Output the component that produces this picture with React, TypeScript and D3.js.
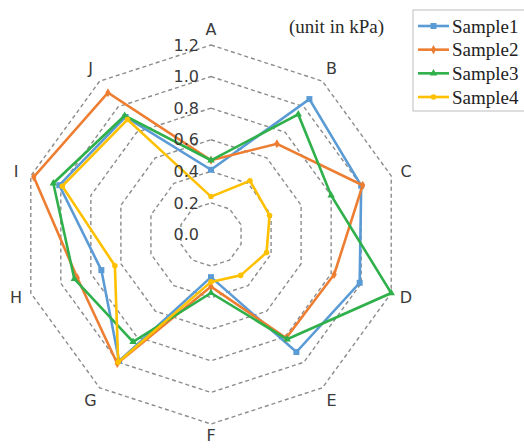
import { useEffect, useRef } from 'react';
import * as d3 from 'd3';

const categories = ['A', 'B', 'C', 'D', 'E', 'F', 'G', 'H', 'I', 'J'];
const seriesNames = ['Sample1', 'Sample2', 'Sample3', 'Sample4'];
const sample1 = [0.41, 1.06, 1.0, 0.99, 0.92, 0.27, 0.99, 0.73, 1.01, 0.92];
const sample2 = [0.47, 0.71, 1.01, 0.82, 0.81, 0.33, 1.01, 0.89, 1.18, 1.11];
const sample3 = [0.47, 0.94, 0.8, 1.2, 0.82, 0.37, 0.84, 0.91, 1.05, 0.93];
const sample4 = [0.24, 0.42, 0.39, 0.37, 0.32, 0.3, 1.0, 0.64, 0.99, 0.9];
const tickValues = [0, 0.2, 0.4, 0.6, 0.8, 1.0, 1.2];
const colors = ['#5b9bd5', '#ed7d31', '#2fb04a', '#ffc000'];

export default function App() {
  const svgRef = useRef<SVGSVGElement>(null);

  useEffect(() => {
    if (!svgRef.current) return;
    const width = 524;
    const height = 448;
    const cx = 211;
    const cy = 234.5;

    d3.select(svgRef.current).selectAll('*').remove();
    const svg = d3.select(svgRef.current)
      .attr('width', width)
      .attr('height', height);

    svg.append('rect').attr('width', width).attr('height', height).attr('fill', '#ffffff');

    const g = svg.append('g').attr('transform', `translate(${cx},${cy})`);

    const r = d3.scaleLinear().domain([0, 1.2]).range([0, 189.5]);
    const angle = d3.scalePoint<string>()
      .domain(categories)
      .range([0, 2 * Math.PI * (categories.length - 1) / categories.length]);

    const pt = (cat: string, v: number): [number, number] => {
      const a = angle(cat) || 0;
      return [r(v) * Math.sin(a), -r(v) * Math.cos(a)];
    };

    const closed = d3.line<[number, number]>().curve(d3.curveLinearClosed);

    // grid decagons
    g.selectAll('.grid')
      .data(tickValues.filter(t => t > 0))
      .join('path')
      .attr('class', 'grid')
      .attr('d', t => closed(categories.map(c => pt(c, t))))
      .attr('fill', 'none')
      .attr('stroke', '#8c8c8c')
      .attr('stroke-width', 1.4)
      .attr('stroke-dasharray', '4,3');

    // category labels
    g.selectAll('.cat')
      .data(categories)
      .join('text')
      .attr('class', 'cat')
      .attr('x', c => pt(c, 1.2)[0] * 205 / 189.5)
      .attr('y', c => pt(c, 1.2)[1] * (c === 'F' ? 201 : 205) / 189.5)
      .attr('dy', '0.35em')
      .attr('text-anchor', 'middle')
      .style('font-family', "'DejaVu Sans', 'Noto Sans', sans-serif")
      .style('font-size', '16px')
      .style('fill', '#3a3a3a')
      .text(c => c);

    const allSeries = [sample1, sample2, sample3, sample4];
    const symbols = [d3.symbolSquare, d3.symbolDiamond, d3.symbolTriangle, d3.symbolCircle];

    allSeries.forEach((vals, i) => {
      const pts = categories.map((c, k) => pt(c, vals[k]));
      g.append('path')
        .attr('d', closed(pts))
        .attr('fill', 'none')
        .attr('stroke', colors[i])
        .attr('stroke-width', 2.6)
        .attr('stroke-linejoin', 'miter');
      g.selectAll(`.m${i}`)
        .data(pts)
        .join('path')
        .attr('class', `m${i}`)
        .attr('transform', d => `translate(${d[0]},${d[1]})`)
        .attr('d', d3.symbol().type(symbols[i]).size(i === 0 ? 36 : 24)())
        .attr('fill', colors[i]);
    });

    // tick labels
    g.selectAll('.tick')
      .data(tickValues)
      .join('text')
      .attr('class', 'tick')
      .attr('x', -12)
      .attr('y', t => -r(t))
      .attr('dy', '0.35em')
      .attr('text-anchor', 'end')
      .style('font-family', "'DejaVu Sans', 'Noto Sans', sans-serif")
      .style('font-size', '16px')
      .style('fill', '#3a3a3a')
      .text(t => d3.format('.1f')(t));

    svg.append('text')
      .attr('x', 289)
      .attr('y', 33)
      .style('font-family', "'Liberation Serif', serif")
      .style('font-size', '19px')
      .style('fill', '#2a2a2a')
      .text('(unit in kPa)');

    // legend
    const legend = svg.append('g').attr('transform', 'translate(413,10)');
    legend.append('rect')
      .attr('width', 130)
      .attr('height', 101)
      .attr('fill', '#fff')
      .attr('stroke', '#bdbdbd')
      .attr('stroke-width', 1);
    const ly = d3.scalePoint<string>().domain(seriesNames).range([16, 87]);
    seriesNames.forEach((name, i) => {
      const y = ly(name) || 0;
      legend.append('line')
        .attr('x1', 5).attr('x2', 36)
        .attr('y1', y).attr('y2', y)
        .attr('stroke', colors[i])
        .attr('stroke-width', 2.6);
      legend.append('path')
        .attr('transform', `translate(20.5,${y})`)
        .attr('d', d3.symbol().type(symbols[i]).size(i === 0 ? 36 : 24)())
        .attr('fill', colors[i]);
      legend.append('text')
        .attr('x', 39)
        .attr('y', y)
        .attr('dy', '0.35em')
        .style('font-family', "'Liberation Serif', serif")
        .style('font-size', '19px')
        .style('fill', '#222')
        .text(name);
    });
  }, []);

  return (
    <div style={{ position: 'absolute', left: 0, top: 0 }}>
      <svg ref={svgRef} style={{ display: 'block' }}></svg>
    </div>
  );
}
